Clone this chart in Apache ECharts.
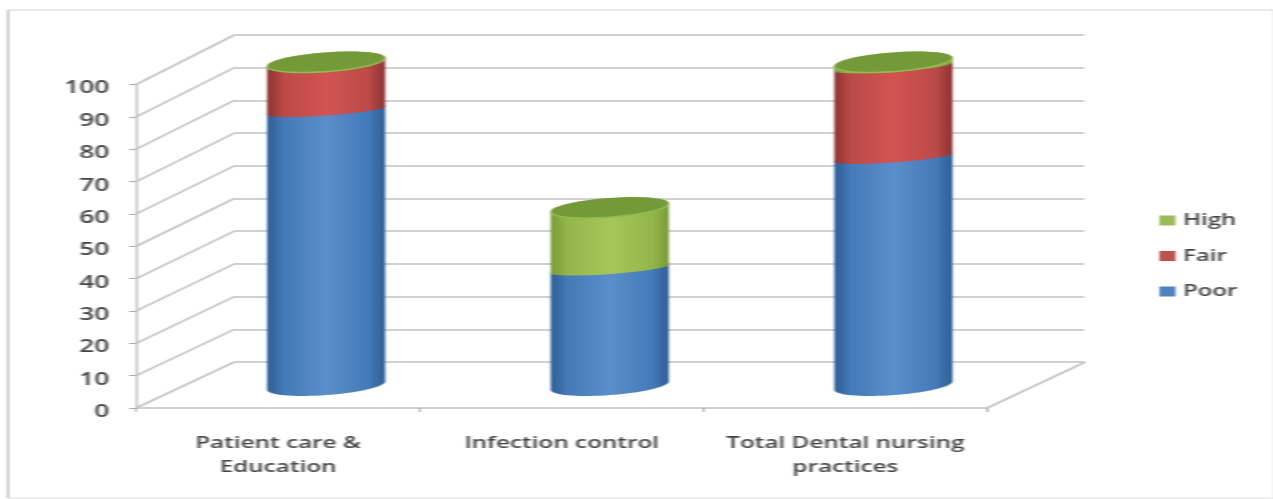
<!DOCTYPE html>
<html><head><meta charset="utf-8">
<script src="https://cdn.jsdelivr.net/npm/echarts@6/dist/echarts.min.js"></script>
<style>
html,body{margin:0;padding:0;background:#fff;overflow:hidden;width:1273px;height:499px}
#c{height:499px;transform-origin:0 0;filter:blur(0.6px)}
</style></head><body><div id="c"></div>
<script>
// data
const categories = ['Patient care &\nEducation', 'Infection control', 'Total Dental nursing\npractices'];
const poor = [85, 36, 70.5];
const fair = [14.5, 0, 28];
const high = [0.5, 19, 1.5];
const valueTicks = [0, 10, 20, 30, 40, 50, 60, 70, 80, 90, 100];
const legendOrder = ['High', 'Fair', 'Poor'];

// the source picture is stretched sideways: draw narrow, stretch with CSS
const S = 1.5;
const X = v => v / S;
const W = 1273 / S;
const el = document.getElementById('c');
el.style.width = W + 'px';
el.style.transform = 'scaleX(' + S + ')';
const chart = echarts.init(el, null, {renderer: 'canvas', width: W, height: 499, devicePixelRatio: 1});

const TEXT = '#444444', LINE = '#c2c2c2', FONT = '"Open Sans"';
const DX = X(48), DY = -22.5, RX = X(59), RY = 9.6, RY_INNER = 5, K = 4.2;

function arc(cx, cy, from, to, ry) {
  const pts = [];
  for (let i = 0; i <= 36; i++) {
    const t = from + (to - from) * i / 36;
    pts.push([cx + RX * Math.cos(t), cy + ry * Math.sin(t) - K * Math.cos(t)]);
  }
  return pts;
}
function grad(e, m) {
  return new echarts.graphic.LinearGradient(0, 0, 1, 0, [
    {offset: 0, color: e}, {offset: 0.14, color: m[0]}, {offset: 0.5, color: m[1]},
    {offset: 0.86, color: m[0]}, {offset: 1, color: e}
  ]);
}
function cylinderSeries(name, color, values, below, shades, hasCap) {
  return {
    type: 'custom', name, silent: true, xAxisIndex: 0, yAxisIndex: 0, z: 5,
    itemStyle: {color},
    encode: {x: 0, y: [1, 2]},
    data: values.map((v, i) => [i, below[i], below[i] + v]),
    renderItem(params, api) {
      const i = api.value(0), a = api.value(1), b = api.value(2);
      if (b - a <= 0) return {type: 'group', children: []};
      const p0 = api.coord([i, a]), p1 = api.coord([i, b]);
      const cx = p0[0] + DX, y0 = p0[1] + DY, y1 = p1[1] + DY;
      const lowerRy = a === 0 ? RY : RY_INNER;
      const side = arc(cx, y0, 0, Math.PI, lowerRy).concat(arc(cx, y1, Math.PI, 2 * Math.PI, RY));
      const children = [{type: 'polygon', shape: {points: side}, style: {fill: grad(shades[0], shades.slice(1))}}];
      if (hasCap) {
        children.push({type: 'polygon', shape: {points: arc(cx, y1, 0, 2 * Math.PI, RY)}, style: {fill: '#739a38'}});
        children.push({type: 'polyline', shape: {points: arc(cx, y1, 0.1, Math.PI - 0.1, RY)}, style: {stroke: '#93bb4b', lineWidth: 1.6, fill: null}});
      }
      return {type: 'group', children};
    }
  };
}
const base0 = poor.map(() => 0);
const base1 = poor.slice();
const base2 = poor.map((v, i) => v + fair[i]);

chart.setOption({
  animation: false,
  backgroundColor: '#fff',
  textStyle: {fontFamily: FONT},
  legend: {
    data: legendOrder, orient: 'vertical', left: X(1158) - 5, top: 207.5, itemWidth: X(16), itemHeight: 10,
    itemGap: 19.5, selectedMode: false, icon: 'rect',
    textStyle: {color: TEXT, fontFamily: FONT, fontSize: 16, fontWeight: 600, lineHeight: 15, padding: [0, 0, 0, 0]},
    itemStyle: {borderWidth: 0}
  },
  grid: [
    {left: X(136), width: X(850), top: 84.5, height: 323.5},
    {left: X(234), width: X(849), top: 35, height: 327}
  ],
  xAxis: [
    {type: 'category', gridIndex: 0, data: categories, boundaryGap: true,
     axisLine: {show: true, lineStyle: {color: LINE, width: 1.6}},
     axisTick: {show: true, alignWithLabel: false, length: 4, lineStyle: {color: '#999'}},
     axisLabel: {color: TEXT, fontFamily: FONT, fontSize: 16.2, fontWeight: 600, margin: 23, lineHeight: 24, interval: 0}},
    {type: 'category', gridIndex: 1, data: categories, show: false}
  ],
  yAxis: [
    {type: 'value', gridIndex: 0, min: 0, max: 100, interval: 10,
     axisLine: {show: true, lineStyle: {color: LINE, width: 1.6}},
     axisTick: {show: true, length: X(7), lineStyle: {color: '#aaa'}},
     splitLine: {show: false},
     axisLabel: {color: TEXT, fontFamily: FONT, fontSize: 17.5, fontWeight: 600, margin: X(27), verticalAlign: 'top', lineHeight: 8}},
    {type: 'value', gridIndex: 1, min: 0, max: 100, interval: 10,
     axisLine: {show: false}, axisTick: {show: false}, axisLabel: {show: false},
     splitLine: {show: true, lineStyle: {color: LINE, width: 1.6}}}
  ],
  graphic: [
    {type: 'line', shape: {x1: X(8), y1: 10, x2: X(8), y2: 498}, style: {stroke: '#9a9a9a', lineWidth: 1}},
    {type: 'line', shape: {x1: X(8), y1: 10, x2: X(1272), y2: 10}, style: {stroke: '#d4d4d4', lineWidth: 1.2}},
    {type: 'line', shape: {x1: X(1272), y1: 10, x2: X(1272), y2: 498}, style: {stroke: '#dcdcdc', lineWidth: 1}},
    {type: 'line', shape: {x1: X(8), y1: 498, x2: X(1272), y2: 498}, style: {stroke: '#e2e2e2', lineWidth: 1}}
  ],
  series: [
    {
      type: 'custom', name: 'walls', silent: true, xAxisIndex: 0, yAxisIndex: 0, z: 1,
      encode: {y: 1},
      data: valueTicks.map(v => [0, v]).concat([[3, 0]]),
      renderItem(params, api) {
        const v = api.value(1), atEnd = api.value(0) === 3;
        const rect = params.coordSys;
        const fy = api.coord([0, v])[1];
        const by = chart.convertToPixel({yAxisIndex: 1}, v);
        const fx = atEnd ? rect.x + rect.width : rect.x;
        const bx = fx + X(98);
        return {type: 'line', shape: {x1: fx, y1: fy, x2: bx, y2: by}, style: {stroke: LINE, lineWidth: 1.6}};
      }
    },
    cylinderSeries('Poor', '#4f81bd', poor, base0, ['#2f5e94', '#447ab8', '#5b8fcb'], false),
    cylinderSeries('Fair', '#c0504d', fair, base1, ['#8c3432', '#bb4a48', '#d35452'], false),
    cylinderSeries('High', '#9bbb59', high, base2, ['#7a9a3a', '#93b64d', '#a6c758'], true)
  ]
});
</script></body></html>
